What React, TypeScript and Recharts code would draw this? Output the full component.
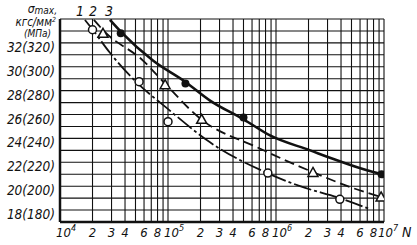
import React from "react";
import { ComposedChart, Line, Scatter, XAxis, YAxis, CartesianGrid, ReferenceDot } from "recharts";

// fitted curves (N, sigma max in kgf/mm2)
const curve1 = [
  { n: 1.7e4, v: 33.92 }, { n: 1.98e4, v: 33.17 }, { n: 2.9e4, v: 31.17 }, { n: 4.45e4, v: 29.25 },
  { n: 1.04e5, v: 26.33 }, { n: 2.45e5, v: 23.67 }, { n: 8.4e5, v: 21.08 }, { n: 1.67e6, v: 20.0 },
  { n: 3.9e6, v: 19.0 }, { n: 7.4e6, v: 18.08 },
];
const curve2 = [
  { n: 2.06e4, v: 33.92 }, { n: 2.6e4, v: 32.92 }, { n: 5.9e4, v: 30.5 }, { n: 9.4e4, v: 28.58 },
  { n: 1.98e5, v: 25.67 }, { n: 6.7e5, v: 23.25 }, { n: 2.2e6, v: 21.17 }, { n: 5.2e6, v: 19.83 },
  { n: 9.5e6, v: 19.08 },
];
const curve3 = [
  { n: 2.9e4, v: 33.92 }, { n: 3.67e4, v: 32.92 }, { n: 7.3e4, v: 30.5 }, { n: 1.44e5, v: 28.75 },
  { n: 2.45e5, v: 27.17 }, { n: 5.05e5, v: 25.58 }, { n: 8.8e5, v: 24.25 }, { n: 2.07e6, v: 23.0 },
  { n: 3.67e6, v: 22.17 }, { n: 6.96e6, v: 21.33 }, { n: 9.56e6, v: 21.0 },
];

// test points
const points1 = [
  { n: 2.0e4, v: 33.1 }, { n: 5.4e4, v: 28.75 }, { n: 1.0e5, v: 25.4 }, { n: 8.4e5, v: 21.1 }, { n: 3.9e6, v: 18.9 },
];
const points2 = [
  { n: 2.5e4, v: 32.8 }, { n: 9.4e4, v: 28.5 }, { n: 2.05e5, v: 25.6 }, { n: 2.2e6, v: 21.15 }, { n: 9.4e6, v: 19.1 },
];
const points3 = [
  { n: 3.65e4, v: 32.8 }, { n: 1.45e5, v: 28.6 }, { n: 5.0e5, v: 25.75 }, { n: 9.5e6, v: 21.0 },
];

const xTicks = [
  1e4, 2e4, 3e4, 4e4, 5e4, 6e4, 7e4, 8e4, 9e4,
  1e5, 2e5, 3e5, 4e5, 5e5, 6e5, 7e5, 8e5, 9e5,
  1e6, 2e6, 3e6, 4e6, 5e6, 6e6, 7e6, 8e6, 9e6, 1e7,
];
const xLabels: [number, string, string][] = [
  [1e4, "10", "4"], [2e4, "2", ""], [3e4, "3", ""], [4e4, "4", ""], [6e4, "6", ""], [8e4, "8", ""],
  [1e5, "10", "5"], [2e5, "2", ""], [3e5, "3", ""], [4e5, "4", ""], [6e5, "6", ""], [8e5, "8", ""],
  [1e6, "10", "6"], [2e6, "2", ""], [3e6, "3", ""], [4e6, "4", ""], [6e6, "6", ""], [8e6, "8", ""],
  [1e7, "10", "7"],
];
const yTicks = [17, 18, 19, 20, 21, 22, 23, 24, 25, 26, 27, 28, 29, 30, 31, 32, 33, 34];
const yLabels: [number, string][] = [
  [18, "18(180)"], [20, "20(200)"], [22, "22(220)"], [24, "24(240)"],
  [26, "26(260)"], [28, "28(280)"], [30, "30(300)"], [32, "32(320)"],
];
const curveTags = [
  { n: 1.53e4, v: 34.67, text: "1" },
  { n: 2.02e4, v: 34.67, text: "2" },
  { n: 2.84e4, v: 34.67, text: "3" },
];

const FONT = "'Liberation Sans Narrow', 'DejaVu Sans Condensed', sans-serif";
const INK = "#111";

const XTick = (props: any) => {
  const { x, payload } = props;
  const lab = xLabels.find((l) => l[0] === payload.value);
  if (!lab) return null;
  const decade = lab[2] !== "";
  const last = payload.value === 1e7;
  return (
    <text
      x={decade ? x - (last ? 6 : 4) : x}
      y={237}
      textAnchor={decade ? "start" : "middle"}
      fontFamily={FONT}
      fontStyle="italic"
      fontSize={13}
      fill={INK}
    >
      {lab[1]}
      {decade && <tspan dy={-6} fontSize={9}>{lab[2]}</tspan>}
      {last && <tspan dy={6} dx={4} fontSize={14}>N</tspan>}
    </text>
  );
};

const YTick = (props: any) => {
  const { y, payload } = props;
  const lab = yLabels.find((l) => l[0] === payload.value);
  if (!lab) return null;
  return (
    <text x={55} y={y + 9} textAnchor="end" fontFamily={FONT} fontStyle="italic" fontSize={13.5} fill={INK}>
      {lab[1]}
    </text>
  );
};

const Title = () => (
  <g fontFamily={FONT} fontStyle="italic" fill={INK}>
    <text x={57} y={13} textAnchor="end" fontSize={12}>
      σ<tspan dy={1} fontSize={10}>max,</tspan>
    </text>
    <text x={56} y={26} textAnchor="end" fontSize={11.5}>
      кгс/мм<tspan dy={-4} fontSize={7}>2</tspan>
    </text>
    <text x={51} y={37} textAnchor="end" fontSize={10}>(МПа)</text>
  </g>
);

const OpenCircle = (p: any) => (
  <circle cx={p.cx} cy={p.cy} r={4} fill="#fff" stroke={INK} strokeWidth={1.5} />
);
const Triangle = (p: any) => (
  <path d={`M${p.cx},${p.cy - 5} L${p.cx + 5},${p.cy + 4} L${p.cx - 5},${p.cy + 4} Z`} fill="#fff" stroke={INK} strokeWidth={1.5} />
);
const FilledCircle = (p: any) => <circle cx={p.cx} cy={p.cy} r={4} fill={INK} />;

const TagLabel = (text: string) => (props: any) => {
  const { viewBox } = props;
  return (
    <text x={viewBox.x} y={viewBox.y + 5} textAnchor="middle" fontFamily={FONT} fontStyle="italic" fontSize={14} fill={INK}>
      {text}
    </text>
  );
};

export default function App() {
  return (
    <div style={{ position: "absolute", left: 0, top: 0, width: 417, height: 245, background: "#fff" }}>
      <ComposedChart width={417} height={245} margin={{ top: 19, right: 33, bottom: 0, left: 0 }}>
        <CartesianGrid stroke={INK} strokeWidth={1.1} />
        <XAxis
          dataKey="n"
          type="number"
          scale="log"
          domain={[1e4, 1e7]}
          ticks={xTicks}
          interval={0}
          height={23}
          allowDataOverflow
          axisLine={{ stroke: INK, strokeWidth: 2.5 }}
          tickLine={false}
          tick={<XTick />}
        />
        <YAxis
          dataKey="v"
          type="number"
          domain={[17, 34]}
          ticks={yTicks}
          interval={0}
          width={60}
          allowDataOverflow
          axisLine={{ stroke: INK, strokeWidth: 2.5 }}
          tickLine={false}
          tick={<YTick />}
          label={<Title />}
        />
        <Line data={curve1} dataKey="v" type="monotone" stroke={INK} strokeWidth={1.8} strokeDasharray="18 3 3 3" dot={false} isAnimationActive={false} />
        <Line data={curve2} dataKey="v" type="monotone" stroke={INK} strokeWidth={1.8} strokeDasharray="10 5" dot={false} isAnimationActive={false} />
        <Line data={curve3} dataKey="v" type="monotone" stroke={INK} strokeWidth={2.6} dot={false} isAnimationActive={false} />
        <Scatter data={points1} dataKey="v" shape={<OpenCircle />} isAnimationActive={false} />
        <Scatter data={points2} dataKey="v" shape={<Triangle />} isAnimationActive={false} />
        <Scatter data={points3} dataKey="v" shape={<FilledCircle />} isAnimationActive={false} />
        {curveTags.map((t) => (
          <ReferenceDot key={t.text} x={t.n} y={t.v} r={0} ifOverflow="visible" label={TagLabel(t.text)} />
        ))}
      </ComposedChart>
    </div>
  );
}
